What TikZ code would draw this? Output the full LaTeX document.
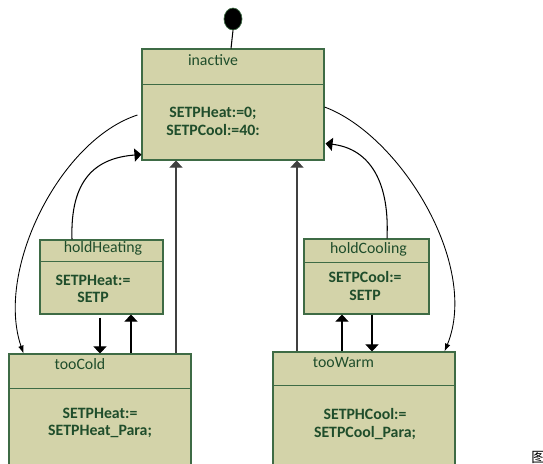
\documentclass[tikz,border=0pt]{standalone}
\usepackage{fontspec}
\setmainfont{Carlito}
\newfontfamily\cjk{Noto Sans CJK SC}
\usetikzlibrary{arrows.meta,calc,shapes.geometric}

\definecolor{statefill}{HTML}{D3D3A9}
\definecolor{stateline}{HTML}{3E6B45}
\definecolor{statetext}{HTML}{1F4D2B}

\tikzset{
	statebox/.style={draw=stateline, fill=statefill, line width=0.6pt, inner sep=0pt},
	titletext/.style={text=statetext, inner sep=0pt, font=\fontsize{9}{10.5}\selectfont},
	bodytext/.style={text=statetext, inner sep=0pt, align=center, font=\bfseries\fontsize{9}{10}\selectfont},
	tri/.style={line width=0.6pt, -{Triangle[length=4pt,width=7.4pt]}},
	slim/.style={line width=0.5pt, -{Latex[length=4.5pt,width=3.2pt]}}
}

\begin{document}
\begin{tikzpicture}[x=0.02cm, y=-0.02cm]
\useasboundingbox (0,0) rectangle (543,463);

% states
\node[statebox, minimum width=3.64cm, minimum height=2.22cm] (inactive) at (233,104.5) {};
\node[statebox, minimum width=2.46cm, minimum height=1.48cm] (holdHeating) at (101.5,277) {};
\node[statebox, minimum width=3.64cm, minimum height=2.32cm] (tooCold) at (100,412) {};
\node[statebox, minimum width=2.5cm, minimum height=1.5cm] (holdCooling) at (366.5,276.5) {};
\node[statebox, minimum width=3.64cm, minimum height=2.36cm] (tooWarm) at (364,411) {};

\foreach \n/\d in {inactive/36, holdHeating/22, tooCold/35, holdCooling/24, tooWarm/34}
	\draw[stateline, line width=0.6pt] ($(\n.north west)+(0,\d)$) -- ($(\n.north east)+(0,\d)$);

% names and actions
\node[titletext] (inactiveName) at (213,60) {inactive};
\node[bodytext] (inactiveDo) at (213,121.5) {SETPHeat:=0;\\SETPCool:=40:};
\node[titletext] (holdHeatingName) at (103,248) {holdHeating};
\node[bodytext] (holdHeatingDo) at (93,289) {SETPHeat:=\\SETP};
\node[titletext] (tooColdName) at (80,364) {tooCold};
\node[bodytext] (tooColdDo) at (100,423) {SETPHeat:=\\SETPHeat\_Para;};
\node[titletext] (holdCoolingName) at (368.5,249) {holdCooling};
\node[bodytext] (holdCoolingDo) at (365,286) {SETPCool:=\\SETP};
\node[titletext] (tooWarmName) at (343.5,362) {tooWarm};
\node[bodytext] (tooWarmDo) at (365,424) {SETPHCool:=\\SETPCool\_Para;};

% initial state
\node[ellipse, fill=black, draw=stateline, minimum width=0.36cm, minimum height=0.44cm, inner sep=0pt] (start) at (233,19) {};
\draw[line width=0.6pt] (start.south) -- ($(inactive.north)+(-2,0)$);

% transitions
\draw[slim] ($(inactive.west)+(-4,10.5)$) .. controls (60,140) and (-5,270) .. ($(tooCold.north west)+(15,0)$);
\draw[slim] ($(inactive.east)+(0,2.5)$) .. controls (400,135) and (480,265) .. ($(tooWarm.north east)+(-11,0)$);
\draw[tri] ($(holdHeating.north)+(-29.5,0)$) .. controls (70,180) and (95,158) .. ($(inactive.south west)+(0,-6)$);
\draw[tri] ($(holdCooling.north)+(20.5,0)$) .. controls (390,175) and (365,148) .. ($(inactive.south east)+(1,-17)$);

\coordinate (c1) at ($(tooCold.north)+(76,0)$);
\coordinate (c2) at ($(tooCold.north)+(31,0)$);
\coordinate (w1) at ($(tooWarm.north)+(-67,0)$);
\coordinate (w2) at ($(tooWarm.north)+(-22,0)$);
\coordinate (w3) at ($(tooWarm.north)+(8,0)$);
\draw[tri, black!75] (c1) -- (c1 |- inactive.south);
\draw[tri, black!75] (w1) -- (w1 |- inactive.south);
\draw[tri] ($(holdHeating.south -| tooCold.north)+(0,3)$) -- (tooCold.north);
\draw[tri] (c2) -- (c2 |- holdHeating.south);
\draw[tri] (w2) -- (w2 |- holdCooling.south);
\draw[tri] (w3 |- holdCooling.south) -- (w3);

\node[anchor=north west, inner sep=0pt, font=\cjk\fontsize{8}{8}\selectfont] (fig) at (531,451) {图};
\end{tikzpicture}
\end{document}
